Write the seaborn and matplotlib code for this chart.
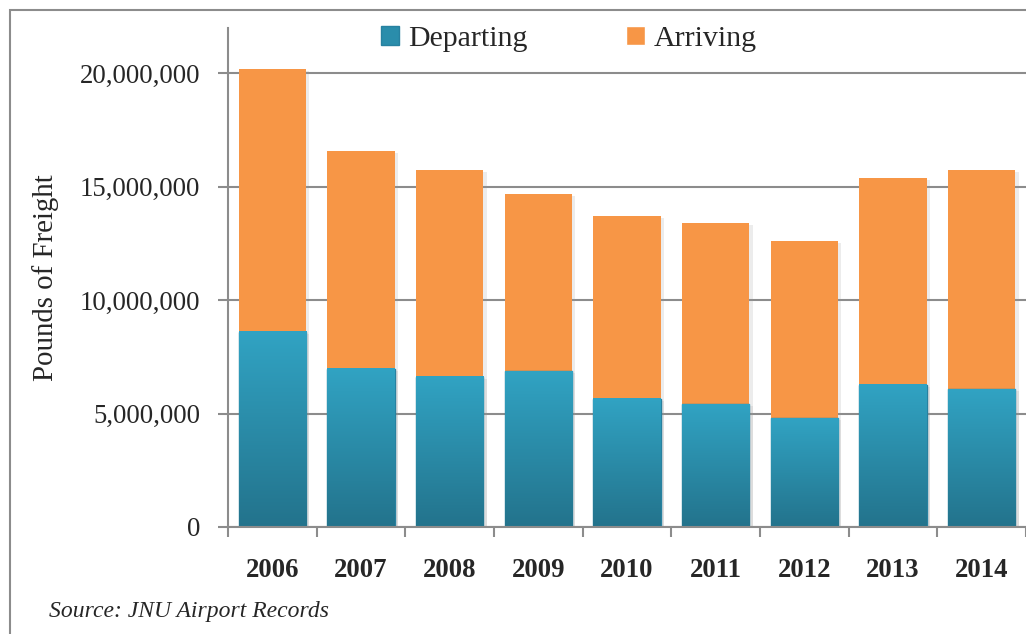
import numpy as np
import pandas as pd
import matplotlib
matplotlib.use('Agg')
import matplotlib.pyplot as plt
import matplotlib.patheffects as pe
from matplotlib.patches import Rectangle, Patch
from matplotlib.ticker import FuncFormatter, FixedLocator
from matplotlib.colors import LinearSegmentedColormap
import seaborn as sns

# === data ===
years = ['2006', '2007', '2008', '2009', '2010', '2011', '2012', '2013', '2014']
departing = [8610000, 6980000, 6630000, 6860000, 5660000, 5410000, 4790000, 6270000, 6080000]
arriving = [11580000, 9600000, 9110000, 7820000, 8050000, 7990000, 7820000, 9120000, 9660000]
series_labels = ['Departing', 'Arriving']
y_ticks = [0, 5000000, 10000000, 15000000, 20000000]

orange = '#f79646'
teal_top, teal_bottom, teal_edge = '#31a3c3', '#23738c', '#2781a0'
grey = '#8c8c8c'

sns.set_style('white')
plt.rcParams['font.family'] = ['Liberation Serif', 'DejaVu Serif']

df = pd.DataFrame({'year': years, 'departing': departing, 'arriving': arriving})
df['total'] = df['departing'] + df['arriving']

fig = plt.figure(figsize=(10.26, 6.34), dpi=100)
ax = fig.add_axes([228 / 1026, 1 - 527 / 634, 798 / 1026, 499 / 634])

shadow = [pe.SimplePatchShadow(offset=(2.5, -1.5), shadow_rgbFace='#999999', alpha=0.18), pe.Normal()]

# stacked: total in orange, departing drawn over it
sns.barplot(ax=ax, data=df, x='year', y='total', color=orange, saturation=1,
            width=0.76, errorbar=None, linewidth=0)
n = len(ax.patches)
sns.barplot(ax=ax, data=df, x='year', y='departing', color=teal_top, saturation=1,
            width=0.76, errorbar=None, edgecolor=teal_edge, linewidth=1)
for p in ax.patches:
    p.set_path_effects(shadow)

# vertical gradient on the departing bars
cmap = LinearSegmentedColormap.from_list('dep', [teal_bottom, teal_top])
grad = np.linspace(0, 1, 256).reshape(-1, 1)
for p in ax.patches[n:]:
    x0, w, h = p.get_x(), p.get_width(), p.get_height()
    ax.imshow(grad, cmap=cmap, origin='lower', aspect='auto',
              extent=[x0, x0 + w, 0, h], clip_path=p, zorder=p.get_zorder() + 0.1)

ax.set_aspect('auto')
ax.set_xlim(-0.5, len(years) - 0.5)
ax.set_ylim(0, 22000000)

ax.yaxis.set_major_locator(FixedLocator(y_ticks))
ax.yaxis.set_major_formatter(FuncFormatter(lambda v, _: f'{int(v):,}'))
ax.grid(axis='y', color=grey, lw=1.5)
ax.grid(axis='x', visible=False)
ax.set_axisbelow(True)

ax.xaxis.set_minor_locator(FixedLocator(np.arange(-0.5, len(years), 1.0)))
ax.tick_params(axis='x', which='major', length=0, pad=22, labelsize=19.3)
ax.tick_params(axis='x', which='minor', length=7, width=1.5, color=grey, bottom=True)
ax.tick_params(axis='y', which='major', length=7, width=1.5, color=grey, pad=13,
               labelsize=19.3, left=True)
for t in ax.get_xticklabels():
    t.set_fontweight('bold')

for s in ['top', 'right']:
    ax.spines[s].set_visible(False)
for s in ['left', 'bottom']:
    ax.spines[s].set_color(grey)
    ax.spines[s].set_linewidth(1.5)

ax.set_xlabel('')
ax.set_ylabel('Pounds of Freight', fontsize=20.8)
ax.yaxis.set_label_coords(-0.212, 0.5)

handles = [Patch(facecolor='#2a8dab', edgecolor=teal_edge), Patch(facecolor=orange)]
fig.legend(handles, series_labels, loc='center', bbox_to_anchor=(569 / 1026, 1 - 39 / 634),
           ncol=2, frameon=False, fontsize=21.5, handlelength=0.62, handleheight=0.62,
           handletextpad=0.3, columnspacing=3.3)

fig.text(49 / 1026, 1 - 611 / 634, 'Source: JNU Airport Records', style='italic',
         fontsize=17, ha='left', va='center')

# outer chart frame (cut off on the right and bottom)
fig.add_artist(Rectangle((10 / 1026, -0.05), 1.2, 1 - 10 / 634 + 0.05, transform=fig.transFigure,
                         fill=False, edgecolor=grey, lw=1.5, clip_on=False))

fig.savefig('out.png', dpi=100)
